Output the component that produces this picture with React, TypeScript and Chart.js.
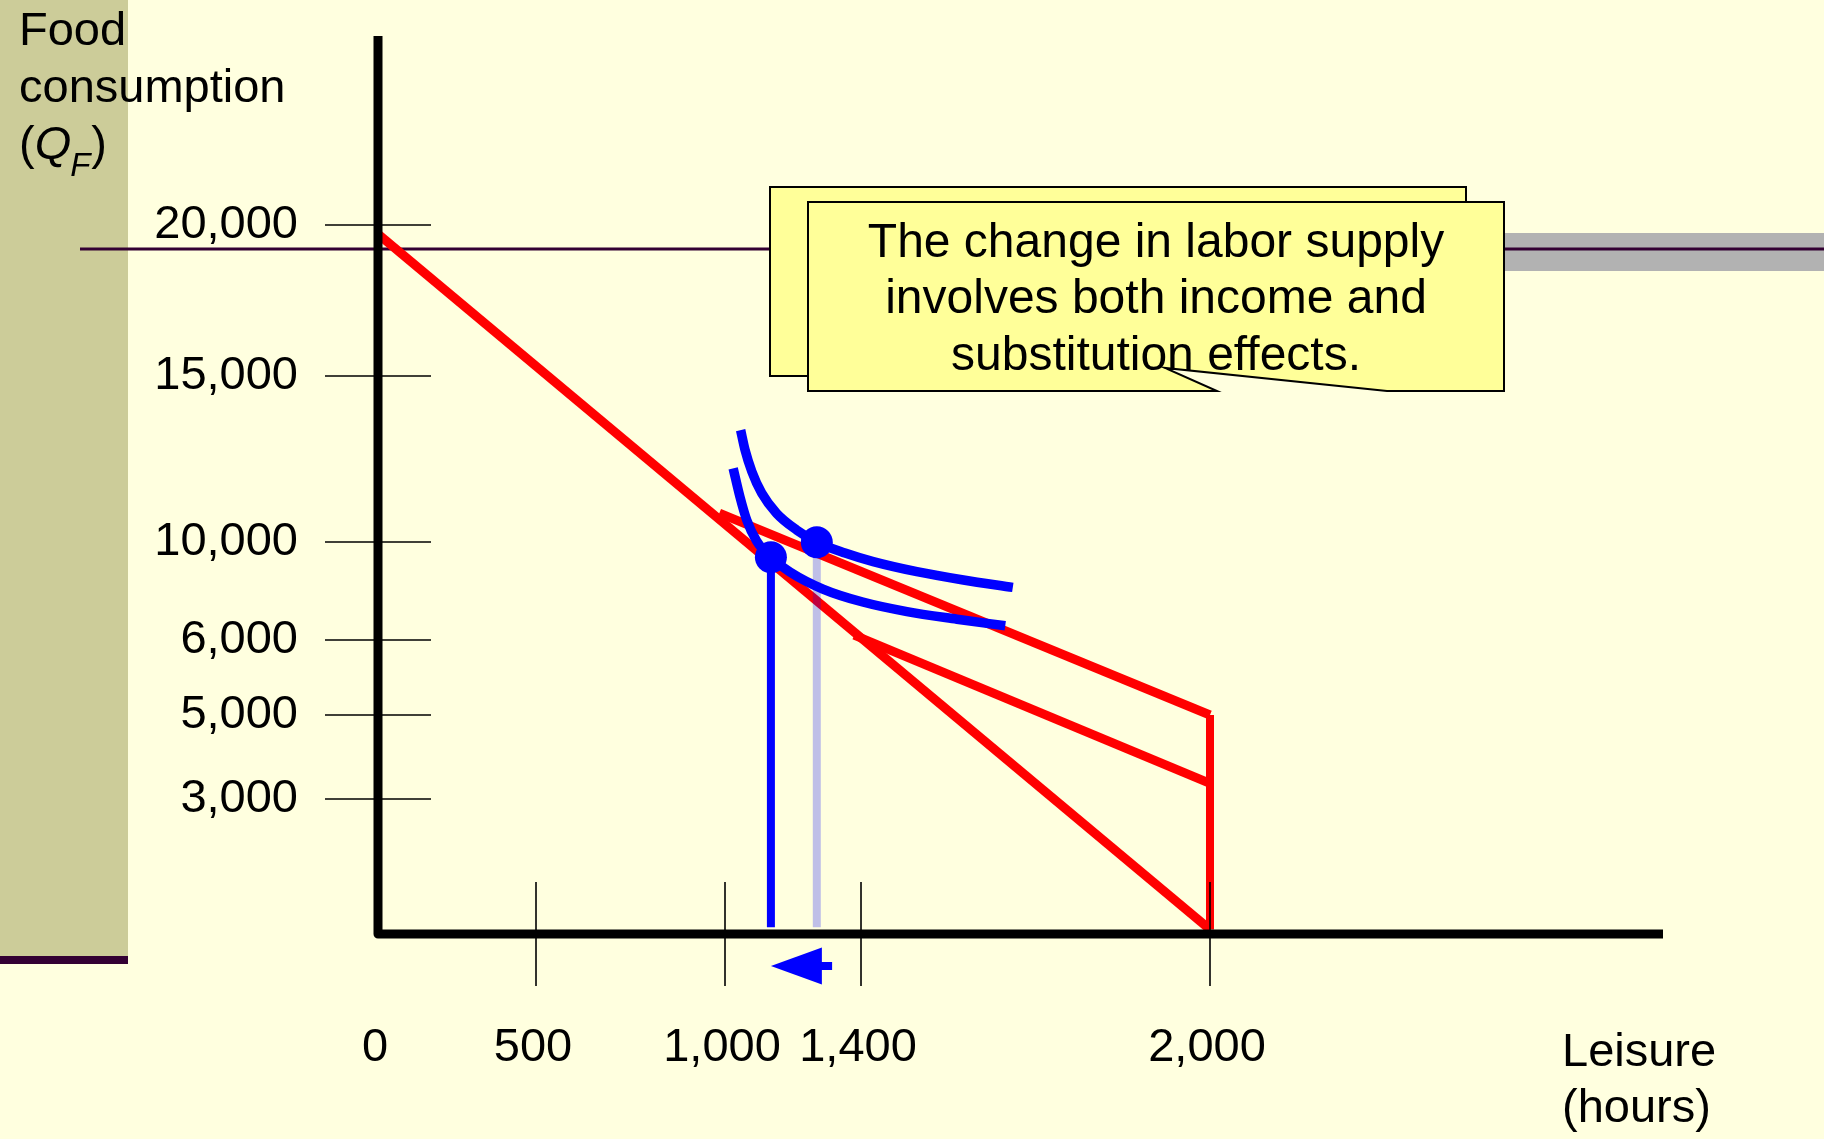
import { useEffect, useRef } from 'react';
import { Chart, registerables, LinearScale } from 'chart.js';

// ---------------- data ----------------
const xTickValues = [0, 500, 1000, 1400, 2000];
const xTickLabels = ['0', '500', '1,000', '1,400', '2,000'];
const yTickValues = [3000, 5000, 6000, 10000, 15000, 20000];
const yTickLabels = ['3,000', '5,000', '6,000', '10,000', '15,000', '20,000'];

const yTitleLines = ['Food', 'consumption'];
const xTitleLines = ['Leisure', '(hours)'];
const calloutLines = ['The change in labor supply', 'involves both income and', 'substitution effects.'];

// budget lines (leisure hours, food consumption)
const budgetOriginalX = [0, 2000];
const budgetOriginalY = [19700, 100];
const budgetNewX = [985, 2000];
const budgetNewY = [10870, 5000];
const budgetCompX = [1380, 2000];
const budgetCompY = [6200, 3370];
const endowmentX = [2000, 2000];
const endowmentY = [5000, 100];

// indifference curves
const u1Leisure = [1024, 1044, 1064, 1093, 1134, 1191, 1288, 1403, 1479, 1565, 1648];
const u1Food = [12220, 11360, 10660, 10030, 9380, 8780, 8080, 7550, 7160, 6850, 6580];
const u2Leisure = [1046, 1059, 1079, 1108, 1152, 1211, 1270, 1353, 1421, 1496, 1576, 1661];
const u2Food = [13370, 12770, 12120, 11470, 10860, 10360, 9990, 9550, 9200, 8790, 8450, 8150];

// optimum points
const optimumLeisure = [1135, 1270];
const optimumFood = [9380, 9990];
const dropFood = 150;

// arrow along the leisure axis
const arrowFrom = 1315;
const arrowTo = 1135;

// ---------------- layout / style ----------------
const FONT = '"Liberation Sans", Arial, Helvetica, sans-serif';
const BG = '#FFFFDF';
const RED = '#FF0000';
const BLUE = '#0000FF';

// piecewise (schematic) axis knots: value -> fraction of axis length
const KNOTS: Record<string, { values: number[]; fractions: number[] }> = {
  x: { values: [0, 500, 1000, 1400, 2000, 3000], fractions: [0, 0.12296, 0.27004, 0.37588, 0.64747, 1] },
  y: { values: [0, 3000, 5000, 6000, 10000, 15000, 20000, 26000], fractions: [0, 0.1505, 0.24415, 0.32776, 0.43701, 0.62207, 0.79041, 1] },
};

class PiecewiseScale extends LinearScale {
  static id = 'piecewise';
  static defaults = {};
  getPixelForValue(value: number) {
    if (value === null || value === undefined) return NaN;
    const k = KNOTS[(this as any).id];
    const v = k.values, f = k.fractions, n = v.length;
    let i = 0;
    if (value >= v[n - 1]) i = n - 2;
    else while (i < n - 2 && value > v[i + 1]) i++;
    const t = (value - v[i]) / (v[i + 1] - v[i]);
    const frac = f[i] + t * (f[i + 1] - f[i]);
    return (this as any).getPixelForDecimal(frac);
  }
  getValueForPixel(pixel: number) {
    const k = KNOTS[(this as any).id];
    const dec = (this as any).getDecimalForPixel(pixel);
    const v = k.values, f = k.fractions, n = v.length;
    let i = 0;
    if (dec >= f[n - 1]) i = n - 2;
    else while (i < n - 2 && dec > f[i + 1]) i++;
    const t = (dec - f[i]) / (f[i + 1] - f[i]);
    return v[i] + t * (v[i + 1] - v[i]);
  }
}

Chart.register(...registerables);
Chart.register(PiecewiseScale as any);

const pts = (xs: number[], ys: number[]) => xs.map((x, i) => ({ x, y: ys[i] }));

function drawCallout(ctx: CanvasRenderingContext2D, l: number, t: number, r: number, b: number,
  footL: number, footR: number, tipX: number, tipY: number) {
  ctx.beginPath();
  ctx.moveTo(l, t);
  ctx.lineTo(r, t);
  ctx.lineTo(r, b);
  ctx.lineTo(footR, b);
  ctx.lineTo(tipX, tipY);
  ctx.lineTo(footL, b);
  ctx.lineTo(l, b);
  ctx.closePath();
  ctx.fillStyle = '#FFFF99';
  ctx.fill();
  ctx.lineWidth = 2;
  ctx.strokeStyle = '#000';
  ctx.stroke();
}

const decorPlugin = {
  id: 'decor',
  beforeDraw(chart: any) {
    const { ctx, width, height } = chart;
    ctx.save();
    ctx.fillStyle = BG;
    ctx.fillRect(0, 0, width, height);
    ctx.fillStyle = '#CCCC99';
    ctx.fillRect(0, 0, 128, 956);
    ctx.fillStyle = '#330033';
    ctx.fillRect(0, 956, 128, 8);
    ctx.fillStyle = '#B2B2B2';
    ctx.fillRect(1460, 233, width - 1460, 38);
    ctx.strokeStyle = '#330033';
    ctx.lineWidth = 3;
    ctx.beginPath();
    ctx.moveTo(80, 249);
    ctx.lineTo(width, 249);
    ctx.stroke();

    ctx.fillStyle = '#000';
    ctx.textAlign = 'left';
    ctx.textBaseline = 'alphabetic';
    ctx.font = `47px ${FONT}`;
    ctx.fillText(yTitleLines[0], 19, 45);
    ctx.fillText(yTitleLines[1], 19, 102);
    let x = 19;
    ctx.fillText('(', x, 159);
    x += ctx.measureText('(').width;
    ctx.font = `italic 47px ${FONT}`;
    ctx.fillText('Q', x, 159);
    x += ctx.measureText('Q').width;
    ctx.font = `italic 33px ${FONT}`;
    ctx.fillText('F', x - 1, 176);
    x += ctx.measureText('F').width;
    ctx.font = `47px ${FONT}`;
    ctx.fillText(')', x, 159);

    ctx.fillText(xTitleLines[0], 1562, 1066);
    ctx.fillText(xTitleLines[1], 1562, 1122);
    ctx.restore();
  },
  afterDatasetsDraw(chart: any) {
    const { ctx, chartArea } = chart;
    const xs = chart.scales.x, ys = chart.scales.y;
    const ax = xs.getPixelForValue(0);
    const ay = ys.getPixelForValue(0);
    ctx.save();
    ctx.strokeStyle = '#000';
    ctx.lineWidth = 1.6;
    for (const v of yTickValues) {
      const py = ys.getPixelForValue(v);
      ctx.beginPath();
      ctx.moveTo(ax - 53, py);
      ctx.lineTo(ax + 53, py);
      ctx.stroke();
    }
    for (const v of xTickValues) {
      if (v === 0) continue;
      const px = xs.getPixelForValue(v);
      ctx.beginPath();
      ctx.moveTo(px, ay - 52);
      ctx.lineTo(px, ay + 52);
      ctx.stroke();
    }
    ctx.lineWidth = 9;
    ctx.lineJoin = 'round';
    ctx.beginPath();
    ctx.moveTo(ax, chartArea.top - 1);
    ctx.lineTo(ax, ay);
    ctx.lineTo(chartArea.right, ay);
    ctx.stroke();

    // arrow
    const tipX = xs.getPixelForValue(arrowTo);
    const tailX = xs.getPixelForValue(arrowFrom);
    const y = ay + 32;
    ctx.fillStyle = BLUE;
    ctx.beginPath();
    ctx.moveTo(tipX, y);
    ctx.lineTo(tipX + 51, y - 18.5);
    ctx.lineTo(tipX + 51, y + 18.5);
    ctx.closePath();
    ctx.fill();
    ctx.fillRect(tipX + 50, y - 4, tailX - (tipX + 50), 8);
    ctx.restore();
  },
  afterDraw(chart: any) {
    const { ctx } = chart;
    ctx.save();
    drawCallout(ctx, 770, 187, 1466, 376, 1179, 1349, 1127, 353);
    drawCallout(ctx, 808, 202, 1504, 391, 1217, 1387, 1165, 368);
    ctx.fillStyle = '#000';
    ctx.textAlign = 'center';
    ctx.textBaseline = 'alphabetic';
    ctx.font = `48px ${FONT}`;
    const base = [257, 313, 370];
    calloutLines.forEach((s, i) => ctx.fillText(s, 1156, base[i]));
    ctx.restore();
  },
};

const lineDs = (label: string, data: any[], color: string, width: number, extra: any = {}) => ({
  label,
  data,
  borderColor: color,
  backgroundColor: color,
  borderWidth: width,
  pointRadius: 0,
  fill: false,
  tension: 0,
  ...extra,
});

export default function App() {
  const ref = useRef<HTMLCanvasElement>(null);
  useEffect(() => {
    if (!ref.current) return;
    const tickFont = { family: FONT, size: 47 };
    const chart = new Chart(ref.current, {
      type: 'line',
      data: {
        datasets: [
          {
            label: 'Optimum',
            data: pts(optimumLeisure, optimumFood),
            showLine: false,
            pointRadius: 16,
            pointHoverRadius: 16,
            pointBackgroundColor: BLUE,
            pointBorderWidth: 0,
            borderColor: BLUE,
            backgroundColor: BLUE,
          } as any,
          lineDs('New labor supply', pts([optimumLeisure[1], optimumLeisure[1]], [optimumFood[1], dropFood]), 'rgba(0,0,255,0.25)', 8),
          lineDs('Labor supply', pts([optimumLeisure[0], optimumLeisure[0]], [optimumFood[0], dropFood]), BLUE, 8),
          lineDs('U2', pts(u2Leisure, u2Food), BLUE, 9.5, { cubicInterpolationMode: 'monotone' }),
          lineDs('U1', pts(u1Leisure, u1Food), BLUE, 9.5, { cubicInterpolationMode: 'monotone' }),
          lineDs('Budget original', pts(budgetOriginalX, budgetOriginalY), RED, 9),
          lineDs('Budget new', pts(budgetNewX, budgetNewY), RED, 9),
          lineDs('Budget compensated', pts(budgetCompX, budgetCompY), RED, 9),
          lineDs('Endowment', pts(endowmentX, endowmentY), RED, 8),
        ],
      },
      options: {
        responsive: false,
        animation: false,
        events: [],
        layout: { padding: { left: 0, right: 161, top: 37, bottom: 0 } },
        plugins: { legend: { display: false }, tooltip: { enabled: false } },
        scales: {
          x: {
            type: 'piecewise' as any,
            position: 'bottom',
            min: 0,
            max: 3000,
            grid: { display: false, drawTicks: false },
            border: { display: false },
            afterBuildTicks: (s: any) => { s.ticks = xTickValues.map((v) => ({ value: v })); },
            afterFit: (s: any) => {
              s.height = 205;
              s.paddingLeft = 0; s.paddingRight = 0; s.paddingTop = 0; s.paddingBottom = 0;
            },
            ticks: {
              autoSkip: false,
              maxRotation: 0,
              minRotation: 0,
              padding: 86,
              labelOffset: -3,
              color: '#000',
              font: tickFont,
              callback: (v: any) => xTickLabels[xTickValues.indexOf(Number(v))] ?? '',
            },
          } as any,
          y: {
            type: 'piecewise' as any,
            position: 'left',
            min: 0,
            max: 26000,
            grid: { display: false, drawTicks: false },
            border: { display: false },
            afterBuildTicks: (s: any) => { s.ticks = yTickValues.map((v) => ({ value: v })); },
            afterFit: (s: any) => {
              s.width = 378;
              s.paddingLeft = 0; s.paddingRight = 0; s.paddingTop = 0; s.paddingBottom = 0;
            },
            ticks: {
              autoSkip: false,
              padding: 80,
              color: '#000',
              font: tickFont,
              callback: (v: any) => yTickLabels[yTickValues.indexOf(Number(v))] ?? '',
            },
          } as any,
        },
      },
      plugins: [decorPlugin],
    } as any);
    return () => chart.destroy();
  }, []);
  return (
    <canvas
      ref={ref}
      width={1824}
      height={1139}
      style={{ position: 'absolute', left: 0, top: 0, width: '1824px', height: '1139px', display: 'block' }}
    />
  );
}
